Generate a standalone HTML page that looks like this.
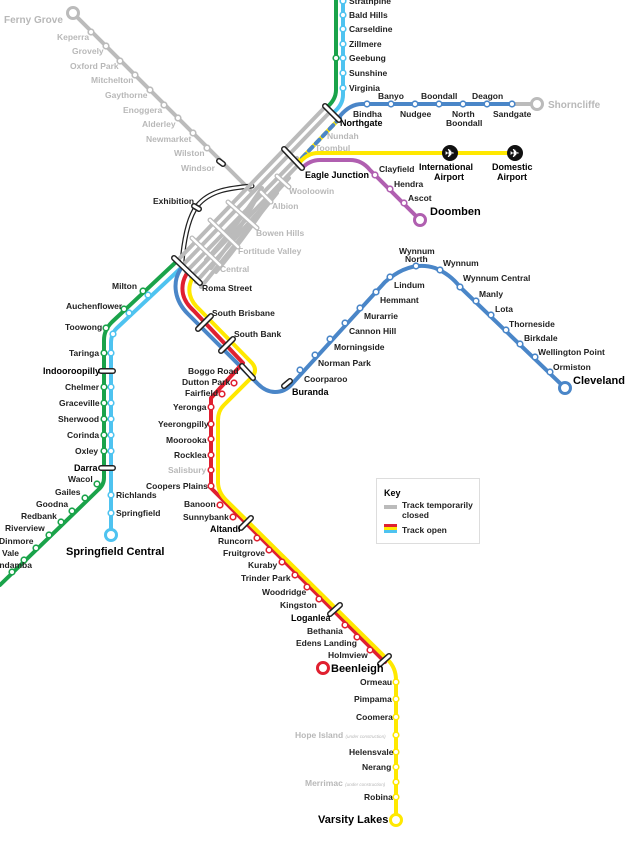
<!DOCTYPE html>
<html><head><meta charset="utf-8"><style>
body{margin:0;background:#fff}
svg{display:block}
text{font-family:"Liberation Sans",sans-serif;font-weight:bold;font-size:8.5px;fill:#222}
.g{fill:#b8b8b8}
.b{font-size:9px;fill:#000}
.L{font-size:11px;fill:#000}
</style></head><body>
<svg width="628" height="841" viewBox="0 0 628 841" xmlns="http://www.w3.org/2000/svg">
<g fill="none" stroke-linecap="round" stroke-linejoin="round">
<path d="M73 13 L252 192" stroke="#bbb" stroke-width="4"/>
<path d="M252 186 C230 188 210 190 197 206 C188 218 184 240 182 262" stroke="#222" stroke-width="5"/>
<path d="M252 186 C230 188 210 190 197 206 C188 218 184 240 182 262" stroke="#fff" stroke-width="2.5"/>
<g stroke="#bbb" stroke-width="4">
<path d="M326 106 L176 262"/>
<path d="M331 111 L181 267"/>
<path d="M297 158 L186 272"/>
<path d="M300 163 L191 277"/>
<path d="M289 178 L196 282"/>
<path d="M277 193 L201 287"/>
<path d="M262 188 C250 205 240 222 206 260"/>
<path d="M258 195 C250 210 242 228 211 268"/>
<path d="M270 200 C260 214 246 236 216 272"/>
</g>
<path d="M336 0 L336 90 Q336 100 326 108" stroke="#1aa34a" stroke-width="4"/>
<path d="M343 0 L343 95 Q343 105 333 113" stroke="#4ec3f0" stroke-width="4"/>
<path d="M340 118 L300 160" stroke="#ffe800" stroke-width="4"/>
<path d="M340 118 L300 160" stroke="#4a86c8" stroke-width="4" stroke-dasharray="5 5"/>
<path d="M340 116 Q350 104 362 104 L512 104" stroke="#4a86c8" stroke-width="4"/>
<path d="M512 104 L537 104" stroke="#bbb" stroke-width="4"/>
<path d="M300 162 Q308 153 318 153 L515 153" stroke="#ffe800" stroke-width="4"/>
<path d="M302 168 Q310 160 320 160 L350 160 Q362 160 370 170 L420 220" stroke="#b05fb0" stroke-width="4"/>
<path d="M176 262 L112 322 Q104 330 104 340 L104 466 L104 478 Q104 485 98 490 L0 585" stroke="#1aa34a" stroke-width="4"/>
<path d="M182 267 L118 327 Q111 333 111 343 L111 535" stroke="#4ec3f0" stroke-width="4"/>
<path d="M180 270 Q174 280 176 292 Q178 304 188 314 L258 384 Q266 392 275 392 Q285 392 292 384 L385 282 Q410 260 435 268 Q450 274 460 287 L565 388" stroke="#4a86c8" stroke-width="4"/>
<path d="M186 275 Q181 284 183 294 Q185 303 194 311 L243 363 L211 398 L211 488 L385 662" stroke="#e02030" stroke-width="4"/>
<path d="M192 279 Q188 287 190 295 Q192 303 200 310 L252 363 Q258 370 252 377 L224 405 Q218 411 218 420 L218 482 Q218 492 226 500 L388 660 Q396 668 396 680 L396 820" stroke="#ffe800" stroke-width="4"/>
</g>
<g fill="#fff" stroke-width="3">
<circle cx="73" cy="13" r="5.5" stroke="#bbb"/>
<circle cx="537" cy="104" r="5.5" stroke="#bbb"/>
<circle cx="420" cy="220" r="5.5" stroke="#b05fb0"/>
<circle cx="565" cy="388" r="5.5" stroke="#4a86c8"/>
<circle cx="111" cy="535" r="5.5" stroke="#4ec3f0"/>
<circle cx="323" cy="668" r="5.5" stroke="#e02030"/>
<circle cx="396" cy="820" r="5.5" stroke="#ffe800"/>
</g>
<g fill="#fff" stroke-width="1.6">
<g stroke="#bbb">
<circle cx="91" cy="32" r="2.8"/><circle cx="106" cy="46" r="2.8"/><circle cx="120" cy="61" r="2.8"/><circle cx="135" cy="75" r="2.8"/><circle cx="150" cy="90" r="2.8"/><circle cx="164" cy="105" r="2.8"/><circle cx="178" cy="118" r="2.8"/><circle cx="193" cy="133" r="2.8"/><circle cx="207" cy="148" r="2.8"/>
</g>
<g stroke="#4ec3f0">
<circle cx="343" cy="1" r="2.8"/><circle cx="343" cy="15" r="2.8"/><circle cx="343" cy="29" r="2.8"/><circle cx="343" cy="44" r="2.8"/><circle cx="343" cy="58" r="2.8"/><circle cx="343" cy="73" r="2.8"/><circle cx="343" cy="88" r="2.8"/>
<circle cx="148" cy="295" r="2.8"/><circle cx="129" cy="313" r="2.8"/><circle cx="113" cy="334" r="2.8"/>
<circle cx="111" cy="353" r="2.8"/><circle cx="111" cy="387" r="2.8"/><circle cx="111" cy="403" r="2.8"/><circle cx="111" cy="419" r="2.8"/><circle cx="111" cy="435" r="2.8"/><circle cx="111" cy="451" r="2.8"/><circle cx="111" cy="495" r="2.8"/><circle cx="111" cy="513" r="2.8"/>
</g>
<g stroke="#1aa34a">
<circle cx="336" cy="58" r="2.8"/>
<circle cx="143" cy="291" r="2.8"/><circle cx="124" cy="309" r="2.8"/><circle cx="106" cy="328" r="2.8"/>
<circle cx="104" cy="353" r="2.8"/><circle cx="104" cy="387" r="2.8"/><circle cx="104" cy="403" r="2.8"/><circle cx="104" cy="419" r="2.8"/><circle cx="104" cy="435" r="2.8"/><circle cx="104" cy="451" r="2.8"/>
<circle cx="97" cy="484" r="2.8"/><circle cx="85" cy="498" r="2.8"/><circle cx="72" cy="511" r="2.8"/><circle cx="61" cy="522" r="2.8"/><circle cx="49" cy="535" r="2.8"/><circle cx="36" cy="548" r="2.8"/><circle cx="24" cy="560" r="2.8"/><circle cx="12" cy="572" r="2.8"/>
</g>
<g stroke="#4a86c8">
<circle cx="367" cy="104" r="2.8"/><circle cx="391" cy="104" r="2.8"/><circle cx="415" cy="104" r="2.8"/><circle cx="439" cy="104" r="2.8"/><circle cx="463" cy="104" r="2.8"/><circle cx="487" cy="104" r="2.8"/><circle cx="512" cy="104" r="2.8"/>
<circle cx="300" cy="370" r="2.8"/><circle cx="315" cy="355" r="2.8"/><circle cx="330" cy="339" r="2.8"/><circle cx="345" cy="323" r="2.8"/><circle cx="360" cy="308" r="2.8"/><circle cx="376" cy="292" r="2.8"/><circle cx="390" cy="277" r="2.8"/><circle cx="416" cy="266" r="2.8"/><circle cx="440" cy="270" r="2.8"/><circle cx="460" cy="287" r="2.8"/><circle cx="476" cy="301" r="2.8"/><circle cx="491" cy="315" r="2.8"/><circle cx="506" cy="330" r="2.8"/><circle cx="520" cy="344" r="2.8"/><circle cx="535" cy="357" r="2.8"/><circle cx="550" cy="372" r="2.8"/>
</g>
<g stroke="#b05fb0">
<circle cx="375" cy="175" r="2.8"/><circle cx="390" cy="189" r="2.8"/><circle cx="404" cy="203" r="2.8"/>
</g>
<g stroke="#e02030">
<circle cx="234" cy="383" r="2.8"/><circle cx="222" cy="394" r="2.8"/><circle cx="211" cy="407" r="2.8"/><circle cx="211" cy="424" r="2.8"/><circle cx="211" cy="439" r="2.8"/><circle cx="211" cy="455" r="2.8"/><circle cx="211" cy="470" r="2.8"/><circle cx="211" cy="486" r="2.8"/>
<circle cx="220" cy="505" r="2.8"/><circle cx="233" cy="517" r="2.8"/><circle cx="257" cy="538" r="2.8"/><circle cx="269" cy="550" r="2.8"/><circle cx="282" cy="562" r="2.8"/><circle cx="295" cy="575" r="2.8"/><circle cx="307" cy="587" r="2.8"/><circle cx="319" cy="599" r="2.8"/><circle cx="345" cy="625" r="2.8"/><circle cx="357" cy="637" r="2.8"/><circle cx="370" cy="650" r="2.8"/>
</g>
<g stroke="#ffe800">
<circle cx="396" cy="682" r="2.8"/><circle cx="396" cy="699" r="2.8"/><circle cx="396" cy="717" r="2.8"/><circle cx="396" cy="735" r="2.8"/><circle cx="396" cy="752" r="2.8"/><circle cx="396" cy="767" r="2.8"/><circle cx="396" cy="782" r="2.8"/><circle cx="396" cy="797" r="2.8"/>
</g>
</g>
<g stroke-linecap="round">
<g stroke="#222" stroke-width="6">
<line x1="325" y1="106" x2="339" y2="120"/><line x1="284" y1="149" x2="302" y2="168"/><line x1="174" y1="258" x2="200" y2="283"/>
<line x1="198" y1="329" x2="211" y2="316"/><line x1="221" y1="351" x2="233" y2="339"/><line x1="242" y1="366" x2="253" y2="378"/><line x1="284" y1="386" x2="290" y2="381"/>
<line x1="101" y1="371" x2="113" y2="371"/><line x1="101" y1="468" x2="113" y2="468"/>
<line x1="241" y1="528" x2="251" y2="518"/><line x1="330" y1="614" x2="340" y2="605"/><line x1="380" y1="664" x2="389" y2="656"/>
<line x1="194" y1="206" x2="199" y2="209"/><line x1="219" y1="161" x2="223" y2="164"/>
</g>
<g stroke="#fff" stroke-width="3">
<line x1="325" y1="106" x2="339" y2="120"/><line x1="284" y1="149" x2="302" y2="168"/><line x1="174" y1="258" x2="200" y2="283"/>
<line x1="198" y1="329" x2="211" y2="316"/><line x1="221" y1="351" x2="233" y2="339"/><line x1="242" y1="366" x2="253" y2="378"/><line x1="284" y1="386" x2="290" y2="381"/>
<line x1="101" y1="371" x2="113" y2="371"/><line x1="101" y1="468" x2="113" y2="468"/>
<line x1="241" y1="528" x2="251" y2="518"/><line x1="330" y1="614" x2="340" y2="605"/><line x1="380" y1="664" x2="389" y2="656"/>
<line x1="194" y1="206" x2="199" y2="209"/><line x1="219" y1="161" x2="223" y2="164"/>
</g>
<g stroke="#bbb" stroke-width="5">
<line x1="277" y1="176" x2="289" y2="187"/><line x1="261" y1="192" x2="271" y2="202"/><line x1="228" y1="202" x2="257" y2="228"/><line x1="210" y1="220" x2="238" y2="247"/><line x1="192" y1="238" x2="220" y2="265"/>
</g>
<g stroke="#fff" stroke-width="2.5">
<line x1="277" y1="176" x2="289" y2="187"/><line x1="261" y1="192" x2="271" y2="202"/><line x1="228" y1="202" x2="257" y2="228"/><line x1="210" y1="220" x2="238" y2="247"/><line x1="192" y1="238" x2="220" y2="265"/>
</g>
</g>
<circle cx="450" cy="153" r="8" fill="#111"/><text x="445" y="157" style="fill:#fff;font-size:11px">✈</text>
<circle cx="515" cy="153" r="8" fill="#111"/><text x="510" y="157" style="fill:#fff;font-size:11px">✈</text>
<g class="g">
<text x="4" y="23" class="g" style="font-size:10px">Ferny Grove</text>
<text x="57" y="40" class="g">Keperra</text><text x="72" y="54" class="g">Grovely</text><text x="70" y="69" class="g">Oxford Park</text><text x="91" y="83" class="g">Mitchelton</text><text x="105" y="98" class="g">Gaythorne</text><text x="123" y="113" class="g">Enoggera</text><text x="142" y="127" class="g">Alderley</text><text x="146" y="142" class="g">Newmarket</text><text x="174" y="156" class="g">Wilston</text><text x="181" y="171" class="g">Windsor</text>
<text x="327" y="139" class="g">Nundah</text><text x="315" y="151" class="g">Toombul</text>
<text x="289" y="194" class="g">Wooloowin</text><text x="272" y="209" class="g">Albion</text><text x="256" y="236" class="g">Bowen Hills</text><text x="238" y="254" class="g">Fortitude Valley</text><text x="220" y="272" class="g">Central</text>
<text x="168" y="473" class="g">Salisbury</text>
<text x="295" y="738" class="g">Hope Island <tspan style="font-size:4.5px;font-weight:normal;font-style:italic">(under construction)</tspan></text>
<text x="305" y="786" class="g">Merrimac <tspan style="font-size:4.5px;font-weight:normal;font-style:italic">(under construction)</tspan></text>
<text x="548" y="108" class="g" style="font-size:10px">Shorncliffe</text>
</g>
<text x="349" y="4">Strathpine</text><text x="349" y="18">Bald Hills</text><text x="349" y="32">Carseldine</text><text x="349" y="47">Zillmere</text><text x="349" y="61">Geebung</text><text x="349" y="76">Sunshine</text><text x="349" y="91">Virginia</text>
<text x="353" y="117">Bindha</text><text x="378" y="99">Banyo</text><text x="400" y="117">Nudgee</text><text x="421" y="99">Boondall</text><text x="452" y="117">North</text><text x="446" y="126">Boondall</text><text x="472" y="99">Deagon</text><text x="493" y="117">Sandgate</text>
<text x="340" y="126" class="b">Northgate</text>
<text x="305" y="178" class="b">Eagle Junction</text>
<text x="379" y="172">Clayfield</text><text x="394" y="187">Hendra</text><text x="408" y="201">Ascot</text>
<text x="430" y="215" class="L">Doomben</text>
<text x="419" y="170" class="b">International</text><text x="434" y="180" class="b">Airport</text>
<text x="492" y="170" class="b">Domestic</text><text x="497" y="180" class="b">Airport</text>
<text x="153" y="204">Exhibition</text>
<text x="202" y="291">Roma Street</text>
<text x="112" y="289">Milton</text><text x="66" y="309">Auchenflower</text><text x="65" y="330">Toowong</text>
<text x="69" y="356">Taringa</text><text x="43" y="374" class="b">Indooroopilly</text><text x="65" y="390">Chelmer</text><text x="59" y="406">Graceville</text><text x="58" y="422">Sherwood</text><text x="67" y="438">Corinda</text><text x="75" y="454">Oxley</text><text x="74" y="471" class="b">Darra</text>
<text x="68" y="482">Wacol</text><text x="55" y="495">Gailes</text><text x="36" y="507">Goodna</text><text x="21" y="519">Redbank</text><text x="5" y="531">Riverview</text><text x="-1" y="544">Dinmore</text><text x="2" y="556">Vale</text><text x="-12" y="568">Bundamba</text>
<text x="116" y="498">Richlands</text><text x="116" y="516">Springfield</text>
<text x="66" y="555" class="L">Springfield Central</text>
<text x="212" y="316">South Brisbane</text><text x="234" y="337">South Bank</text>
<text x="188" y="374">Boggo Road</text><text x="182" y="385">Dutton Park</text><text x="185" y="396">Fairfield</text><text x="173" y="410">Yeronga</text><text x="158" y="427">Yeerongpilly</text><text x="166" y="443">Moorooka</text><text x="174" y="458">Rocklea</text><text x="146" y="489">Coopers Plains</text>
<text x="184" y="507">Banoon</text><text x="183" y="520">Sunnybank</text><text x="210" y="532" class="b">Altandi</text><text x="218" y="544">Runcorn</text><text x="223" y="556">Fruitgrove</text><text x="248" y="568">Kuraby</text><text x="241" y="581">Trinder Park</text><text x="262" y="595">Woodridge</text><text x="280" y="608">Kingston</text><text x="291" y="621" class="b">Loganlea</text><text x="307" y="634">Bethania</text><text x="296" y="646">Edens Landing</text><text x="328" y="658">Holmview</text>
<text x="331" y="672" class="L">Beenleigh</text>
<text x="360" y="685">Ormeau</text><text x="354" y="702">Pimpama</text><text x="356" y="720">Coomera</text><text x="349" y="755">Helensvale</text><text x="362" y="770">Nerang</text><text x="364" y="800">Robina</text>
<text x="318" y="823" class="L">Varsity Lakes</text>
<text x="292" y="395" class="b">Buranda</text><text x="304" y="382">Coorparoo</text><text x="318" y="366">Norman Park</text><text x="334" y="350">Morningside</text><text x="349" y="334">Cannon Hill</text><text x="364" y="319">Murarrie</text><text x="380" y="303">Hemmant</text><text x="394" y="288">Lindum</text>
<text x="399" y="254">Wynnum</text><text x="405" y="262">North</text><text x="443" y="266">Wynnum</text><text x="463" y="281">Wynnum Central</text><text x="479" y="297">Manly</text><text x="495" y="312">Lota</text><text x="509" y="327">Thorneside</text><text x="524" y="341">Birkdale</text><text x="538" y="355">Wellington Point</text><text x="553" y="370">Ormiston</text>
<text x="573" y="384" class="L">Cleveland</text>
<rect x="376.5" y="478.5" width="103" height="65" fill="#fff" stroke="#ddd"/>
<text x="384" y="496" class="b">Key</text>
<rect x="384" y="505" width="13" height="4" fill="#bbb"/>
<text x="402" y="508">Track temporarily</text><text x="402" y="518">closed</text>
<rect x="384" y="524" width="13" height="3" fill="#e02030"/><rect x="384" y="527" width="13" height="3" fill="#ffe800"/><rect x="384" y="530" width="13" height="3" fill="#4ec3f0"/>
<text x="402" y="533">Track open</text>
</svg>
</body></html>
